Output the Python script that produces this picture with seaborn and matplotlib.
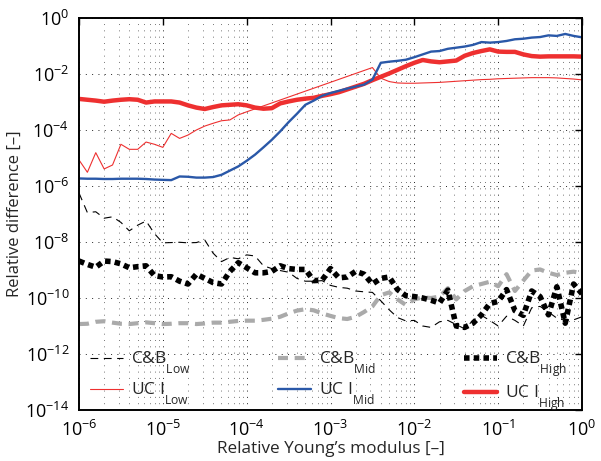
import numpy as np
import pandas as pd
import matplotlib
matplotlib.use("Agg")
import matplotlib.pyplot as plt
import matplotlib._mathtext as _mt
import seaborn as sns
from matplotlib.ticker import LogLocator, FixedLocator, NullFormatter, NullLocator, LogFormatterSciNotation

# ---------------- data (log10 of values) ----------------
x_exp = np.round(np.linspace(-6, 0, 61), 2)  # sample positions, 10 per decade

cb_low_exp = [-6.25, -6.95, -6.92, -7.15, -7.10, -7.30, -7.60, -7.40, -7.25, -7.70,
              -8.03, -8.02, -8.01, -8.03, -8.02, -7.93, -8.40, -8.70, -8.55, -8.60,
              -8.46, -8.50, -8.85, -8.95, -9.02, -9.08, -9.30, -9.40, -9.40, -9.38,
              -9.55, -9.62, -9.65, -9.75, -9.78, -9.80, -10.10, -10.42, -10.70, -10.82,
              -10.80, -11.00, -11.05, -10.85, -10.80, -10.95, -11.10, -10.80, -10.62, -10.80,
              -11.00, -10.65, -10.80, -11.00, -10.35, -10.30, -10.50, -10.72, -10.80, -10.78,
              -10.67]

cb_mid_exp = [-10.93, -10.92, -10.85, -10.83, -10.88, -10.92, -10.93, -10.90, -10.87, -10.90,
              -10.93, -10.92, -10.90, -10.90, -10.93, -10.91, -10.88, -10.88, -10.85, -10.82,
              -10.81, -10.81, -10.78, -10.74, -10.67, -10.55, -10.45, -10.40, -10.44, -10.55,
              -10.64, -10.72, -10.75, -10.67, -10.50, -10.30, -9.90, -9.80, -10.05, -10.25,
              -10.05, -9.98, -10.00, -9.95, -9.65, -10.05, -9.75, -9.58, -9.50, -9.42,
              -9.58, -9.15, -9.75, -9.38, -9.02, -8.98, -9.10, -9.18, -9.10, -9.06,
              -9.12]

cb_high_exp = [-8.68, -8.80, -8.90, -8.68, -8.70, -8.78, -8.92, -8.88, -8.85, -9.20,
               -9.25, -9.24, -9.40, -9.50, -9.15, -9.30, -9.45, -9.50, -9.05, -8.74,
               -8.92, -9.10, -9.10, -9.05, -8.85, -8.95, -8.98, -8.98, -9.38, -9.36,
               -8.95, -9.28, -9.25, -9.05, -9.15, -9.50, -9.30, -9.25, -9.70, -9.92,
               -9.95, -10.00, -10.08, -10.18, -9.72, -11.00, -11.05, -10.90, -10.60, -10.20,
               -10.12, -9.70, -10.45, -10.62, -9.75, -9.95, -10.60, -9.60, -10.90, -9.50,
               -9.85]

# UC I Low: no samples between 10^-4 and 10^-2.5 (straight segment)
uc_low_x_exp = [-6.0, -5.9, -5.8, -5.7, -5.6, -5.5, -5.4, -5.3, -5.2, -5.1,
                -5.0, -4.9, -4.8, -4.7, -4.6, -4.5, -4.4, -4.3, -4.2, -4.1,
                -4.0, -2.5, -2.4, -2.3, -2.2, -2.1, -2.0, -1.9, -1.8, -1.7,
                -1.6, -1.5, -1.4, -1.3, -1.2, -1.1, -1.0, -0.9, -0.8, -0.7,
                -0.6, -0.5, -0.4, -0.3, -0.2, -0.1, 0.0]
uc_low_exp = [-5.07, -5.51, -4.81, -5.39, -5.25, -4.51, -4.69, -4.69, -4.43, -4.51,
              -4.62, -4.12, -4.30, -4.18, -4.00, -3.86, -3.76, -3.67, -3.64, -3.46,
              -3.35, -1.77, -2.15, -2.27, -2.32, -2.33, -2.33, -2.32, -2.31, -2.30,
              -2.28, -2.26, -2.24, -2.22, -2.20, -2.19, -2.17, -2.16, -2.15, -2.14,
              -2.13, -2.13, -2.13, -2.14, -2.16, -2.18, -2.21]

uc_mid_exp = [-5.73, -5.74, -5.74, -5.75, -5.75, -5.74, -5.74, -5.74, -5.75, -5.77,
              -5.78, -5.79, -5.66, -5.67, -5.70, -5.70, -5.68, -5.60, -5.45, -5.30,
              -5.10, -4.88, -4.62, -4.35, -4.05, -3.72, -3.42, -3.10, -2.95, -2.78,
              -2.68, -2.60, -2.52, -2.45, -2.38, -2.20, -1.60, -1.56, -1.53, -1.49,
              -1.40, -1.30, -1.20, -1.18, -1.10, -1.06, -1.02, -0.96, -0.86, -0.88,
              -0.86, -0.82, -0.76, -0.74, -0.70, -0.68, -0.62, -0.64, -0.57, -0.64,
              -0.69]

uc_high_exp = [-2.89, -2.92, -2.95, -2.99, -2.95, -2.92, -2.90, -2.92, -3.02, -2.98,
               -2.98, -2.98, -3.02, -3.12, -3.20, -3.25, -3.18, -3.12, -3.10, -3.08,
               -3.12, -3.20, -3.24, -3.22, -3.05, -2.98, -2.92, -2.88, -2.85, -2.78,
               -2.72, -2.65, -2.55, -2.45, -2.35, -2.22, -2.10, -1.98, -1.85, -1.72,
               -1.60, -1.50, -1.55, -1.58, -1.55, -1.52, -1.35, -1.25, -1.18, -1.12,
               -1.20, -1.21, -1.21, -1.30, -1.36, -1.38, -1.37, -1.37, -1.37, -1.37,
               -1.38]

labels = {
    "cb_low": "C&B$_{\\mathrm{Low}}$",
    "cb_mid": "C&B$_{\\mathrm{Mid}}$",
    "cb_high": "C&B$_{\\mathrm{High}}$",
    "uc_low": "UC I$_{\\mathrm{Low}}$",
    "uc_mid": "UC I$_{\\mathrm{Mid}}$",
    "uc_high": "UC I$_{\\mathrm{High}}$",
}
x_ticks_exp = [-6, -5, -4, -3, -2, -1, 0]
y_ticks_exp = [-14, -12, -10, -8, -6, -4, -2, 0]

# ---------------- style ----------------
sns.set_theme(style="white")
FONT = "Open Sans"
plt.rcParams["font.family"] = [FONT, "DejaVu Sans"]
plt.rcParams["mathtext.fontset"] = "custom"
plt.rcParams["mathtext.rm"] = FONT
plt.rcParams["mathtext.it"] = FONT + ":italic"
plt.rcParams["mathtext.bf"] = FONT + ":bold"
# lower the legend subscripts like the original
_mt.FontConstantsBase.sub1 = 1.15

fig = plt.figure(figsize=(6.01, 4.61), dpi=100)
ax = fig.add_axes([79 / 601, 1 - 410 / 461, (582 - 79) / 601, (410 - 18) / 461])
ax.set_xscale("log")
ax.set_yscale("log")

def frame(xe, ye):
    return pd.DataFrame({"x": 10.0 ** np.asarray(xe, float), "y": 10.0 ** np.asarray(ye, float)})

RED = "#EE3030"
BLUE = "#2A58A8"
GRAY = "#AAAAAA"

sns.lineplot(data=frame(x_exp, cb_mid_exp), x="x", y="y", ax=ax, color=GRAY, lw=3.0,
             estimator=None, sort=False, dashes=False, linestyle=(0, (2.4, 1.6)), label=labels["cb_mid"])
sns.lineplot(data=frame(x_exp, cb_low_exp), x="x", y="y", ax=ax, color="black", lw=0.8,
             estimator=None, sort=False, dashes=False, linestyle=(0, (7, 5)), label=labels["cb_low"])
sns.lineplot(data=frame(x_exp, cb_high_exp), x="x", y="y", ax=ax, color="black", lw=4.0,
             estimator=None, sort=False, dashes=False, linestyle=(0, (1.0, 0.75)), label=labels["cb_high"])
sns.lineplot(data=frame(uc_low_x_exp, uc_low_exp), x="x", y="y", ax=ax, color=RED, lw=0.8,
             estimator=None, sort=False, label=labels["uc_low"])
sns.lineplot(data=frame(x_exp, uc_high_exp), x="x", y="y", ax=ax, color=RED, lw=3.2,
             estimator=None, sort=False, label=labels["uc_high"])
sns.lineplot(data=frame(x_exp, uc_mid_exp), x="x", y="y", ax=ax, color=BLUE, lw=1.7,
             estimator=None, sort=False, label=labels["uc_mid"])

h = {}
for line in ax.get_lines():
    line.set_dash_capstyle("butt")
    h[line.get_label()] = line

ax.set_xlim(1e-6, 1)
ax.set_ylim(1e-14, 1)
ax.xaxis.set_major_locator(FixedLocator([10.0 ** e for e in x_ticks_exp]))
ax.yaxis.set_major_locator(FixedLocator([10.0 ** e for e in y_ticks_exp]))
ax.xaxis.set_major_formatter(LogFormatterSciNotation())
ax.yaxis.set_major_formatter(LogFormatterSciNotation())
ax.xaxis.set_minor_locator(LogLocator(base=10, subs=np.arange(2, 10), numticks=100))
ax.yaxis.set_minor_locator(NullLocator())
ax.xaxis.set_minor_formatter(NullFormatter())

dot = (0, (1, 5.5))
ax.grid(True, which="major", color="#222222", linestyle=dot, lw=0.7)
ax.grid(True, which="minor", axis="x", color="#777777", linestyle=dot, lw=0.7)
ax.tick_params(which="both", direction="in", top=True, right=True, colors="black")
ax.tick_params(which="major", length=5, width=1.0, labelsize=13, pad=7)
ax.tick_params(which="minor", length=0)
for s in ax.spines.values():
    s.set_color("black")
    s.set_linewidth(1.4)

ax.set_xlabel("Relative Young\u2019s modulus [\u2013]", fontsize=12.3, labelpad=1)
ax.set_ylabel("Relative difference [\u2013]", fontsize=12, labelpad=2)

order = ["cb_low", "uc_low", "cb_mid", "uc_mid", "cb_high", "uc_high"]
ax.legend([h[labels[k]] for k in order], [labels[k] for k in order], ncol=3,
          loc="lower left", bbox_to_anchor=(0.022, -0.008), frameon=False, fontsize=12.5,
          handlelength=1.9, handletextpad=0.45, columnspacing=5.05, labelspacing=0.25,
          borderpad=0, borderaxespad=0)

fig.savefig("out.png", dpi=100)
